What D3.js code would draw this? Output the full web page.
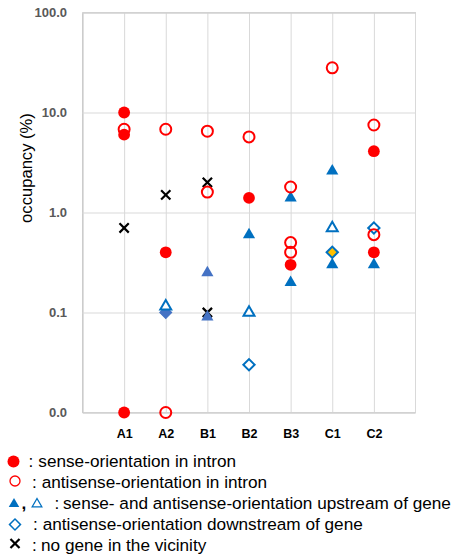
<!DOCTYPE html>
<html>
<head>
<meta charset="utf-8">
<script src="https://cdn.jsdelivr.net/npm/d3@7"></script>
<style>
  body { margin: 0; background: #fff; }
  text { font-family: "Liberation Sans", Arial, sans-serif; }
</style>
</head>
<body>
<div id="chart"></div>
<script>
const categories = ["A1", "A2", "B1", "B2", "B3", "C1", "C2"];
const yTicks = [0.01, 0.1, 1, 10, 100];

// [category, occupancy %]
const senseIntron = [["A1", 10], ["A1", 6.0], ["A1", 0.01], ["A2", 0.4], ["B2", 1.4], ["B3", 0.3], ["C2", 4.1], ["C2", 0.4]];
const antisenseIntron = [["A1", 6.8], ["A2", 6.8], ["A2", 0.01], ["B1", 6.5], ["B1", 1.6], ["B2", 5.7], ["B3", 1.8], ["B3", 0.5], ["B3", 0.4], ["C1", 28], ["C2", 7.5], ["C2", 0.6]];
const senseUpstream = [["B2", 0.6], ["B3", 1.4], ["B3", 0.2], ["C1", 2.6], ["C1", 0.3], ["C2", 0.3]];
const senseUpstreamB1 = [["B1", 0.25], ["B1", 0.09]];
const antisenseUpstream = [["A2", 0.115], ["B2", 0.1], ["C1", 0.7]];
const antisenseDownstream = [["B2", 0.03], ["C2", 0.7]];
const antisenseDownstreamA2 = [["A2", 0.1]];
const antisenseDownstreamC1 = [["C1", 0.4]];
const noGene = [["A1", 0.7], ["A2", 1.5], ["B1", 2.0], ["B1", 0.1]];

const legendItems = [
  "sense-orientation in intron",
  "antisense-orientation in intron",
  "sense- and antisense-orientation upstream of gene",
  "antisense-orientation downstream of gene",
  "no gene in the vicinity"
];

const RED = "#FF0000";
const BLUE = "#0070C0";
const BLUE2 = "#4472C4";

const margin = { top: 12.5, left: 82.5 };
const width = 333;
const height = 400;

const svg = d3
  .select("#chart")
  .append("svg")
  .attr("width", 461)
  .attr("height", 556);

const g = svg.append("g").attr("transform", `translate(${margin.left}, ${margin.top})`);

const x = d3.scalePoint().domain(categories).range([0, width]).padding(1);
const y = d3.scaleLog().domain([0.01, 100]).range([height, 0]);

// frame
g.append("rect")
  .attr("width", width)
  .attr("height", height)
  .attr("fill", "none")
  .attr("stroke", "#D9D9D9");

// x gridlines + labels
const xAxis = g
  .append("g")
  .attr("transform", `translate(0, ${height})`)
  .call(d3.axisBottom(x).tickSize(-height).tickPadding(17));
xAxis.select(".domain").remove();
xAxis.selectAll(".tick line").attr("stroke", "#D9D9D9");
xAxis
  .selectAll(".tick text")
  .attr("fill", "#000")
  .style("font-size", "12.5px")
  .style("font-weight", "bold")
  .style("font-family", '"Liberation Sans", Arial, sans-serif');

// y gridlines + labels
const yAxis = g
  .append("g")
  .call(d3.axisLeft(y).tickValues(yTicks).tickFormat(d3.format(".1f")).tickSize(-width).tickPadding(15.5));
yAxis.select(".domain").attr("stroke", "#BFBFBF");
yAxis.selectAll(".tick line").attr("stroke", "#D9D9D9");
yAxis
  .selectAll(".tick text")
  .attr("fill", "#595959")
  .style("font-size", "13px")
  .style("font-weight", "bold")
  .style("font-family", '"Liberation Sans", Arial, sans-serif');

// y title
svg
  .append("text")
  .attr("transform", "translate(32, 168) rotate(-90)")
  .attr("text-anchor", "middle")
  .style("font-size", "16.6px")
  .attr("fill", "#000")
  .text("occupancy (%)");

const sym = (type, size) => d3.symbol().type(type).size(size)();

const drawSeries = (data, path, fill, stroke, sw, rot) => {
  g.append("g")
    .selectAll("path")
    .data(data)
    .enter()
    .append("path")
    .attr("d", path)
    .attr("transform", d => `translate(${x(d[0])}, ${y(d[1])})` + (rot ? ` rotate(${rot})` : ""))
    .attr("fill", fill)
    .attr("stroke", stroke)
    .attr("stroke-width", sw);
};

drawSeries(noGene, sym(d3.symbolX, 58), "none", "#000", 2.2);
drawSeries(antisenseDownstream, sym(d3.symbolSquare, 64), "#fff", BLUE, 2, 45);
drawSeries(antisenseDownstreamA2, sym(d3.symbolSquare, 72), BLUE2, BLUE2, 1, 45);
drawSeries(antisenseDownstreamC1, sym(d3.symbolSquare, 64), "#FFC000", BLUE, 2, 45);
drawSeries(antisenseUpstream, sym(d3.symbolTriangle, 52), "#fff", BLUE, 2);
drawSeries(senseUpstream, sym(d3.symbolTriangle, 64), BLUE, "none", 0);
drawSeries(senseUpstreamB1, sym(d3.symbolTriangle, 64), BLUE2, "none", 0);
drawSeries(antisenseIntron, sym(d3.symbolCircle, Math.PI * 5.5 * 5.5), "none", RED, 2);
drawSeries(senseIntron, sym(d3.symbolCircle, Math.PI * 5.9 * 5.9), RED, "none", 0);

// legend
const legendY = [467, 488, 509, 530, 551];
const colonX = [28.5, 32, 54.5, 33, 32];
const legendTextX = [38.3, 41.7, 63, 42.7, 41];
const leg = svg.append("g");

leg.append("path").attr("d", sym(d3.symbolCircle, Math.PI * 36)).attr("transform", "translate(13.5, 461.5)").attr("fill", RED);
leg.append("path").attr("d", sym(d3.symbolCircle, Math.PI * 25)).attr("transform", "translate(15, 481)").attr("fill", "none").attr("stroke", RED).attr("stroke-width", 1.3);
leg.append("path").attr("d", sym(d3.symbolTriangle, 48)).attr("transform", "translate(14, 504)").attr("fill", BLUE);
leg.append("text").attr("x", 21.5).attr("y", 509).style("font-size", "17px").style("font-weight", "bold").text(",");
leg.append("path").attr("d", sym(d3.symbolTriangle, 40)).attr("transform", "translate(37, 504)").attr("fill", "none").attr("stroke", BLUE).attr("stroke-width", 1.3);
leg.append("path").attr("d", sym(d3.symbolSquare, 60)).attr("transform", "translate(15, 524.5) rotate(45)").attr("fill", "none").attr("stroke", BLUE).attr("stroke-width", 1.5);
leg.append("path").attr("d", sym(d3.symbolX, 55)).attr("transform", "translate(15, 543.5)").attr("fill", "none").attr("stroke", "#000").attr("stroke-width", 2.2);

leg
  .selectAll("text.colon")
  .data(legendItems)
  .enter()
  .append("text")
  .attr("class", "colon")
  .attr("x", (d, i) => colonX[i])
  .attr("y", (d, i) => legendY[i])
  .style("font-size", "17.2px")
  .attr("fill", "#000")
  .text(":");

leg
  .selectAll("text.item")
  .data(legendItems)
  .enter()
  .append("text")
  .attr("class", "item")
  .attr("x", (d, i) => legendTextX[i])
  .attr("y", (d, i) => legendY[i])
  .style("font-size", "17.2px")
  .attr("fill", "#000")
  .text(d => d);
</script>
</body>
</html>
